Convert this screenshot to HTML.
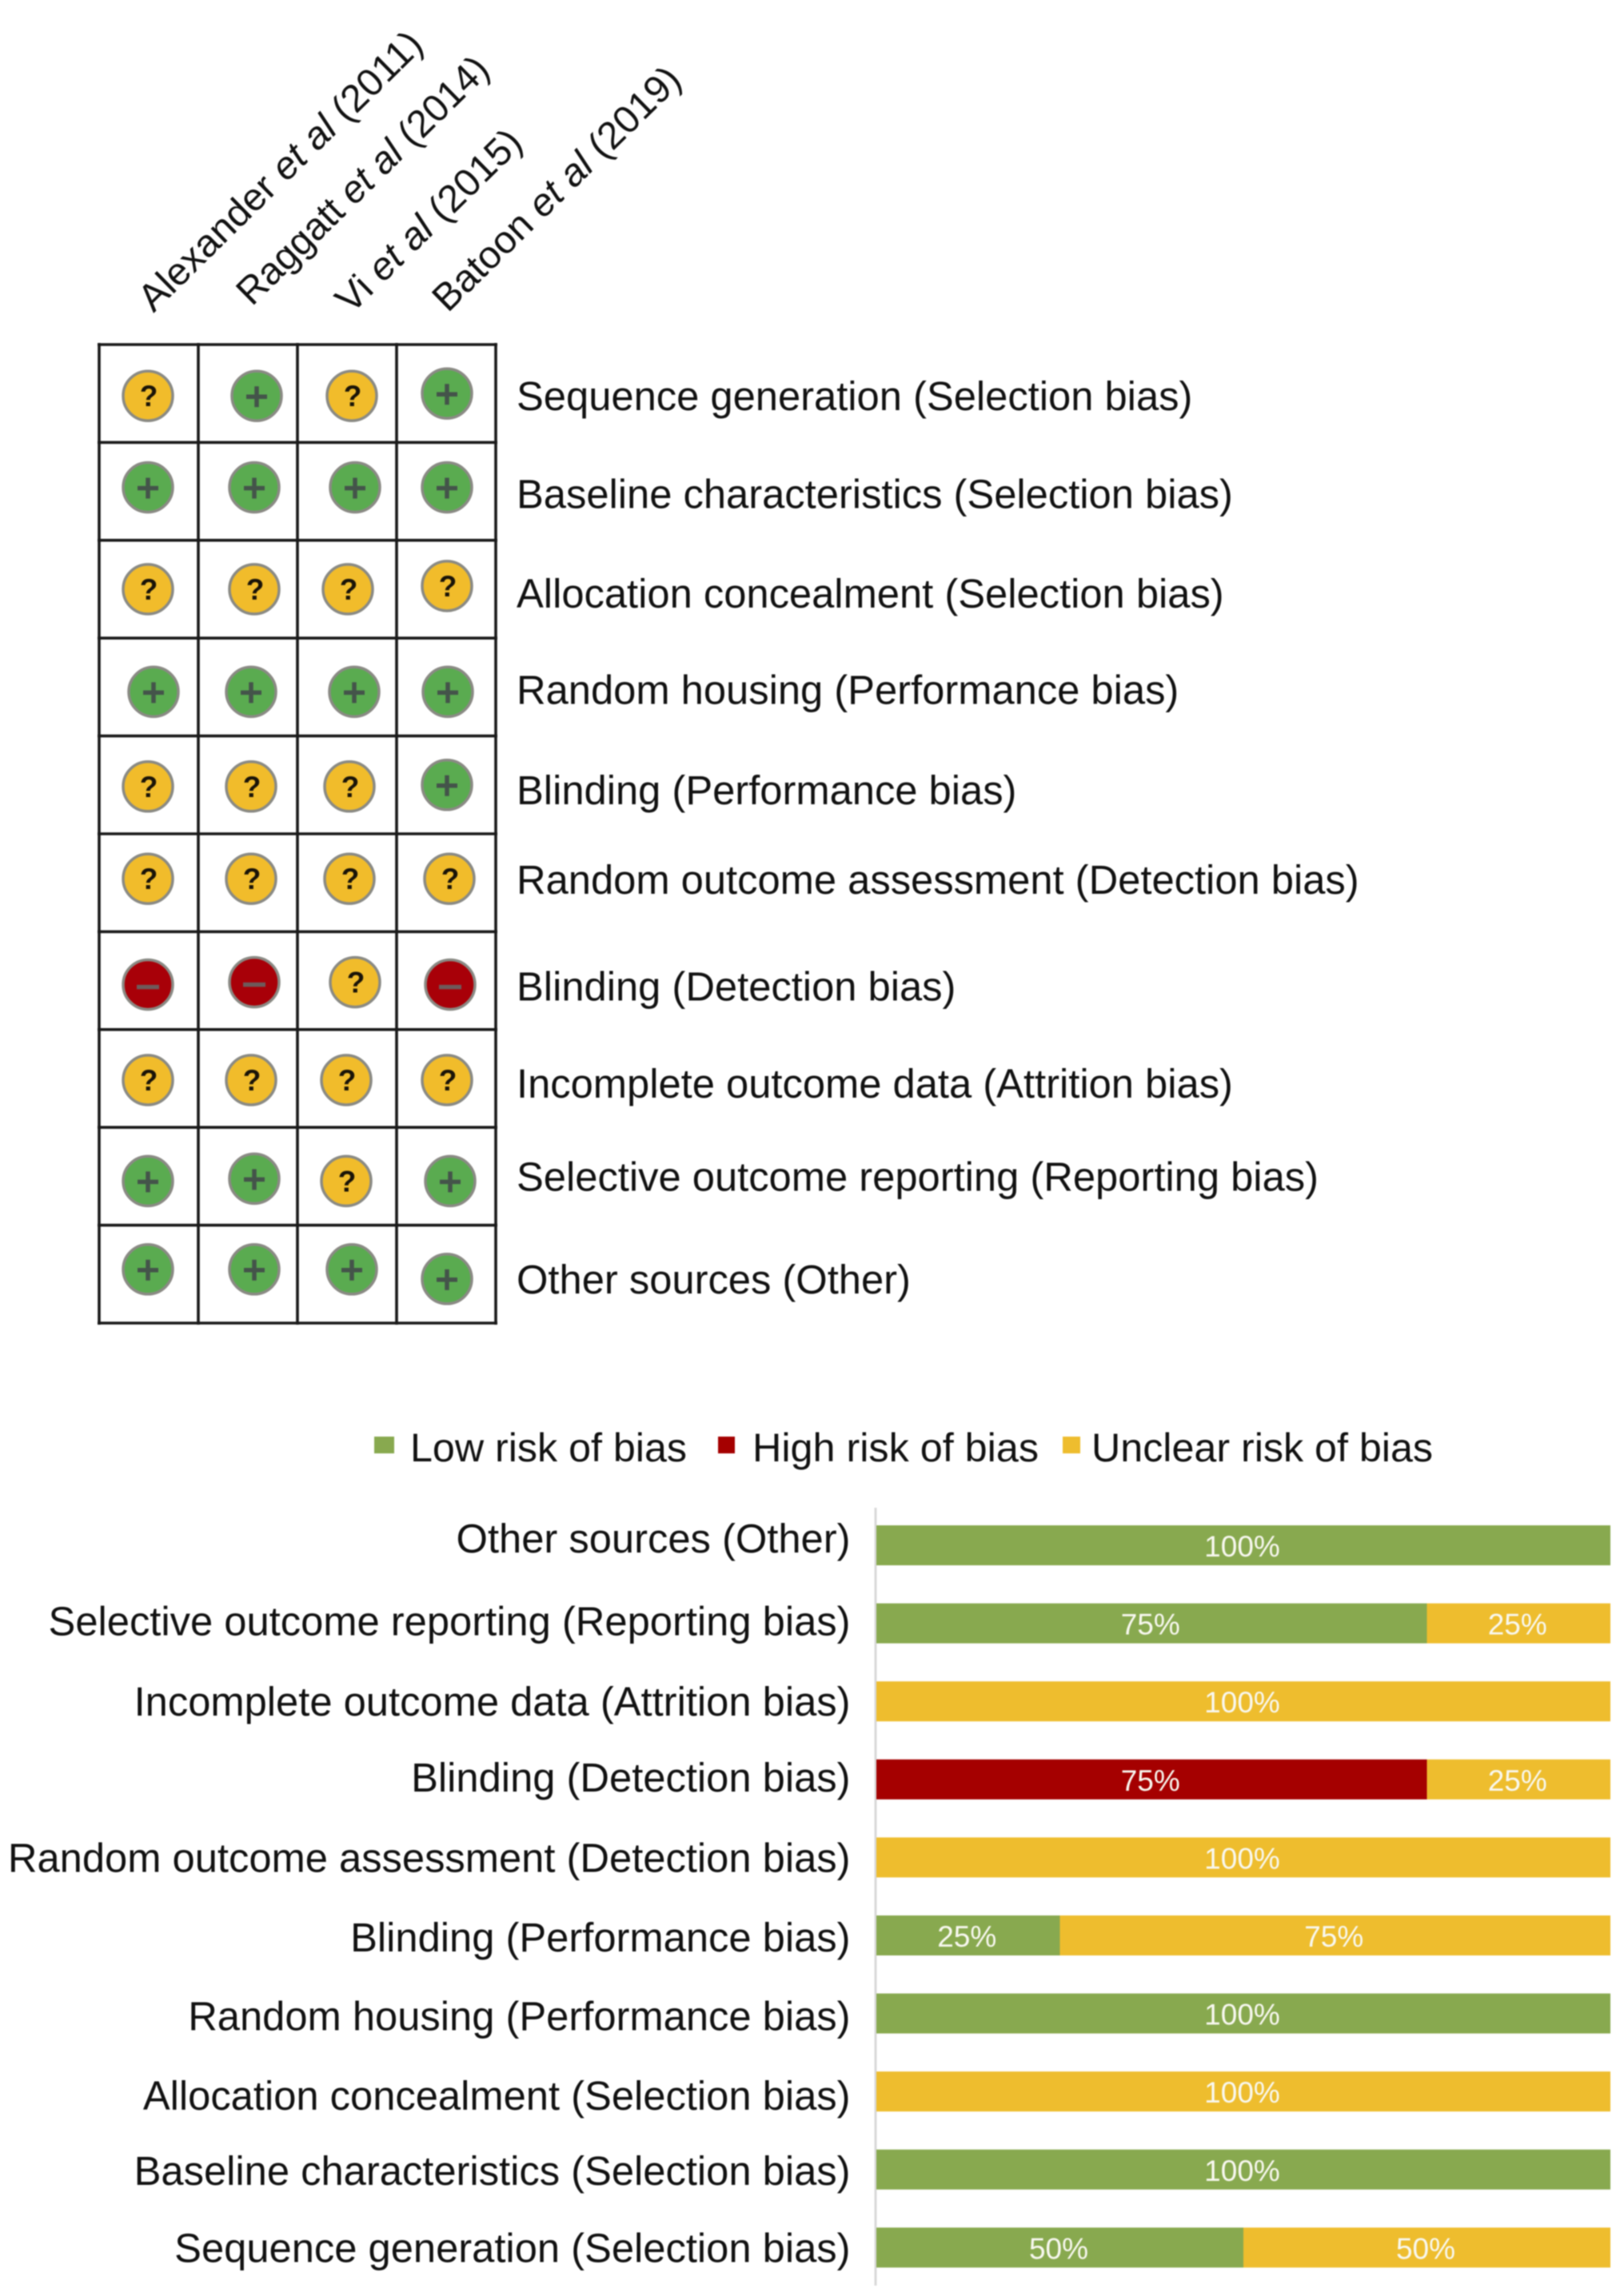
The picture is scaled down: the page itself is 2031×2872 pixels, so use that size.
<!DOCTYPE html>
<html lang="en">
<head>
<meta charset="utf-8">
<title>Risk of bias summary</title>
<style>
html,body{margin:0;padding:0;background:#fff;width:2031px;height:2872px;overflow:hidden}
svg{display:block;filter:blur(0.7px)}
text{font-family:"Liberation Sans",sans-serif}
</style>
</head>
<body>
<svg id="figure" xmlns="http://www.w3.org/2000/svg" width="2031" height="2872" viewBox="0 0 2031 2872">
  <rect width="2031" height="2872" fill="#ffffff"/>
  <g id="headers"></g>
  <g id="matrix"></g>
  <g id="legend">
    <rect x="468" y="1797" width="25" height="21" fill="#88a94f"/>
    <text x="513" y="1828" font-size="50" textLength="346" lengthAdjust="spacingAndGlyphs" fill="#111">Low risk of bias</text>
    <rect x="898" y="1797" width="21" height="21" fill="#a50000"/>
    <text x="941" y="1828" font-size="50" textLength="358" lengthAdjust="spacingAndGlyphs" fill="#111">High risk of bias</text>
    <rect x="1329" y="1797" width="22" height="21" fill="#eebd2e"/>
    <text x="1365" y="1828" font-size="50" textLength="427" lengthAdjust="spacingAndGlyphs" fill="#111">Unclear risk of bias</text>
  </g>
  <g id="chart"></g>
</svg>
<script>
// ---- Risk matrix data ----
const studies = ["Alexander", "Raggatt", "Vi", "Batoon"];
const studyYears = ["(2011)", "(2014)", "(2015)", "(2019)"];
const domains = [
  "Sequence generation (Selection bias)",
  "Baseline characteristics (Selection bias)",
  "Allocation concealment (Selection bias)",
  "Random housing (Performance bias)",
  "Blinding (Performance bias)",
  "Random outcome assessment (Detection bias)",
  "Blinding (Detection bias)",
  "Incomplete outcome data (Attrition bias)",
  "Selective outcome reporting (Reporting bias)",
  "Other sources (Other)"
];
const ratings = [
  ["U","L","U","L"],
  ["L","L","L","L"],
  ["U","U","U","U"],
  ["L","L","L","L"],
  ["U","U","U","L"],
  ["U","U","U","U"],
  ["H","H","U","H"],
  ["U","U","U","U"],
  ["L","L","U","L"],
  ["L","L","L","L"]
];

// ---- Stacked bar data (top bar first) ----
const categories = [
  "Other sources (Other)",
  "Selective outcome reporting (Reporting bias)",
  "Incomplete outcome data (Attrition bias)",
  "Blinding (Detection bias)",
  "Random outcome assessment (Detection bias)",
  "Blinding (Performance bias)",
  "Random housing (Performance bias)",
  "Allocation concealment (Selection bias)",
  "Baseline characteristics (Selection bias)",
  "Sequence generation (Selection bias)"
];
const lowRisk = [100, 75, 0, 0, 0, 25, 100, 0, 100, 50];
const highRisk = [0, 0, 0, 75, 0, 0, 0, 0, 0, 0];
const unclearRisk = [0, 25, 100, 25, 100, 75, 0, 100, 0, 50];

// ---- Layout (hand-placement offsets of the original figure, not data) ----
const HEADER = [
  {x:192, y:392, len:476},
  {x:315, y:384, len:420},
  {x:439, y:394, len:304},
  {x:560, y:392, len:413}
];
const NUDGE = [
  [[-1,3],[11,3],[6,3],[1,0]],
  [[-1,-5],[8,-5],[10,-5],[1,-5]],
  [[-1,0],[8,0],[1,0],[1,-4]],
  [[6,6],[4,6],[9,6],[2,6]],
  [[-1,2],[4,2],[3,2],[1,0]],
  [[-1,-5],[4,-5],[3,-5],[4,-5]],
  [[-1,5],[8,2],[10,2],[5,5]],
  [[-1,2],[4,2],[-1,2],[1,2]],
  [[-1,6],[8,3],[-1,6],[5,6]],
  [[-1,-6],[8,-6],[6,-6],[1,6]]
];
const DOMAIN_LABEL_DY = [21,21,23,21,24,14,25,24,18,24];
const CATEGORY_LABEL_DY = [9,15,18,15,18,20,21,23,19,18];

const SVGNS = "http://www.w3.org/2000/svg";
function mk(tag, parent, attrs) {
  const el = document.createElementNS(SVGNS, tag);
  for (const k in attrs) el.setAttribute(k, attrs[k]);
  parent.appendChild(el);
  return el;
}

// Axis functions
const GRID_X0 = 124, GRID_Y0 = 431, CELL_W = 124, CELL_H = 122.4;
const colEdge = i => GRID_X0 + CELL_W * i;
const rowEdge = j => GRID_Y0 + CELL_H * j;
const colCenter = i => colEdge(i) + CELL_W / 2;
const rowCenter = j => rowEdge(j) + CELL_H / 2;

const BAR_X0 = 1096, BAR_X100 = 2014, BAR_Y0 = 1908, BAR_STEP = 97.6, BAR_H = 50;
const xScale = v => BAR_X0 + (BAR_X100 - BAR_X0) * v / 100;
const yBand = i => BAR_Y0 + BAR_STEP * i;

// Study headers
const headers = document.getElementById("headers");
studies.forEach((name, i) => {
  const h = HEADER[i];
  const t = mk("text", headers, {
    transform: "translate(" + h.x + "," + h.y + ") rotate(-44.5)",
    "font-size": 48, fill: "#111", textLength: h.len, lengthAdjust: "spacingAndGlyphs"
  });
  
  
  const a = mk("tspan", t, {});
  a.textContent = name + " ";
  const b = mk("tspan", t, {"font-style": "italic"});
  b.textContent = "et al";
  const c = mk("tspan", t, {});
  c.textContent = " " + studyYears[i];
});

// Risk matrix grid
const matrix = document.getElementById("matrix");
for (let i = 0; i <= studies.length; i++) {
  const line = mk("line", matrix, {x1: colEdge(i), x2: colEdge(i), y1: rowEdge(0) - 2, y2: rowEdge(domains.length) + 2, stroke: "#1a1a1a", "stroke-width": 3.6});
  
  
}
for (let j = 0; j <= domains.length; j++) {
  const line = mk("line", matrix, {x1: colEdge(0) - 2, x2: colEdge(studies.length) + 2, y1: rowEdge(j), y2: rowEdge(j), stroke: "#1a1a1a", "stroke-width": 3.6});
  
  
}

const RATING_FILL = {L: "#5aab50", U: "#f1bc2b", H: "#a80008"};
const RATING_NAME = {L: "low", U: "unclear", H: "high"};
const R = 31;

ratings.forEach((row, j) => {
  row.forEach((rating, i) => {
    const cx = colCenter(i) + NUDGE[j][i][0];
    const cy = rowCenter(j) + NUDGE[j][i][1];
    const g = mk("g", matrix, {});
    
    
    mk("circle", g, {cx: cx, cy: cy, r: R, fill: RATING_FILL[rating], stroke: "#8a8a84", "stroke-width": 3.5});
    if (rating === "L") {
      mk("path", g, {d: "M" + (cx - 13) + " " + (cy + 1) + "H" + (cx + 13) + "M" + cx + " " + (cy - 12) + "V" + (cy + 14), stroke: "#44544a", "stroke-width": 5.5, fill: "none"});
    } else if (rating === "H") {
      mk("path", g, {d: "M" + (cx - 14) + " " + (cy + 3) + "H" + (cx + 14), stroke: "#6e5a5a", "stroke-width": 5.5, fill: "none"});
    } else {
      const q = mk("text", g, {x: cx + 1, y: cy + 13, "font-size": 37, "font-weight": "bold", "text-anchor": "middle", fill: "#1a1408"});
      q.textContent = "?";
    }
  });
});

// Domain labels
domains.forEach((label, j) => {
  const t = mk("text", matrix, {x: 646, y: rowCenter(j) + DOMAIN_LABEL_DY[j], "font-size": 50.7, fill: "#111"});
  
  
  t.textContent = label;
});

// Stacked bars
const chart = document.getElementById("chart");
const axis = mk("line", chart, {x1: 1095, x2: 1095, y1: 1886, y2: 2859, stroke: "#d9d9d9", "stroke-width": 3});



const SERIES = [
  {key: "low", values: lowRisk, fill: "#88a94f"},
  {key: "high", values: highRisk, fill: "#a50000"},
  {key: "unclear", values: unclearRisk, fill: "#eebd2e"}
];

categories.forEach((cat, i) => {
  const label = mk("text", chart, {x: 1063.5, y: yBand(i) + BAR_H / 2 + CATEGORY_LABEL_DY[i], "font-size": 50.7, "text-anchor": "end", fill: "#111"});
  
  
  label.textContent = cat;

  let acc = 0;
  SERIES.forEach(s => {
    const v = s.values[i];
    if (!v) return;
    const x0 = xScale(acc), x1 = xScale(acc + v);
    const bar = mk("rect", chart, {x: x0, y: yBand(i), width: x1 - x0, height: BAR_H, fill: s.fill});
    
    
    const val = mk("text", chart, {x: (x0 + x1) / 2 - 1.5, y: yBand(i) + BAR_H / 2 + 14, "font-size": 37, "text-anchor": "middle", fill: "#f8f8f0"});
    
    
    val.textContent = v + "%";
    acc += v;
  });
});
</script>
</body>
</html>
